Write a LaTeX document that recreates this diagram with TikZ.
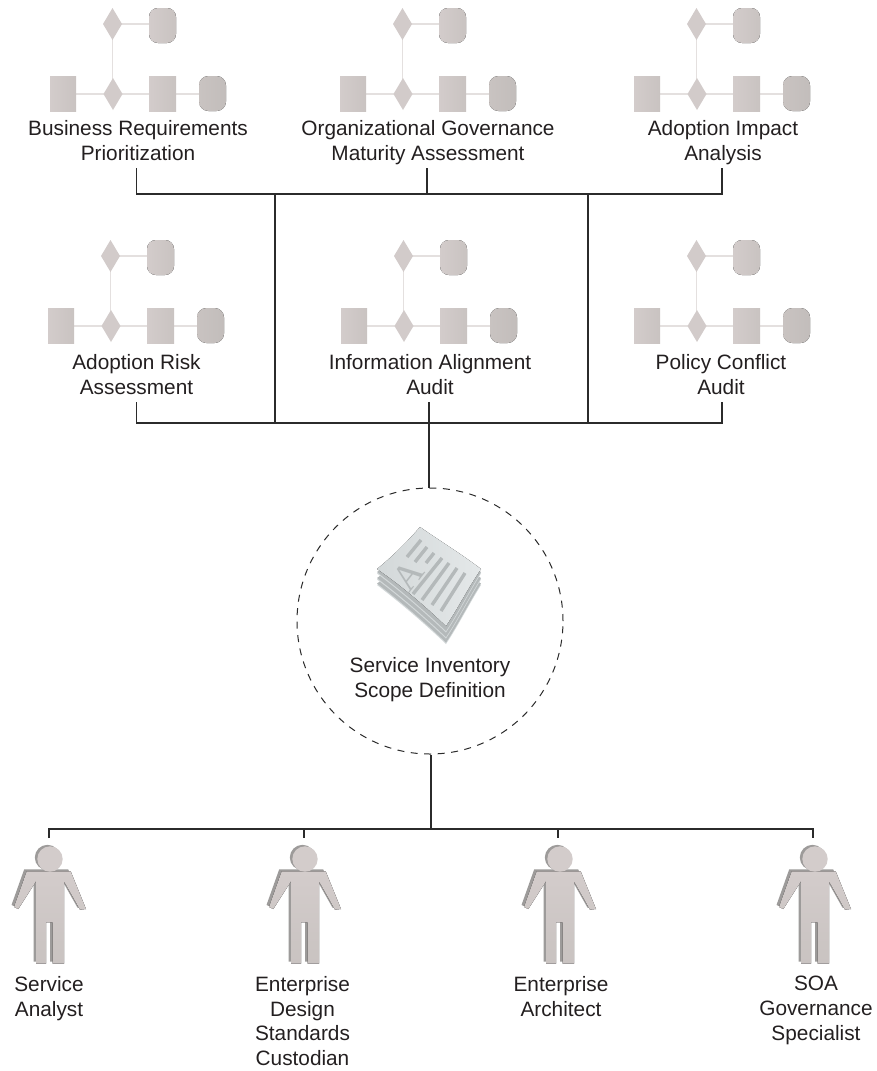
\documentclass[tikz,border=0pt]{standalone}
\usepackage{fontspec}
\setmainfont{Liberation Sans}
\newfontfamily\serifA{Liberation Serif}
\definecolor{iconA}{HTML}{D3CCCB}
\definecolor{iconB}{HTML}{C9C3C1}
\definecolor{iconC}{HTML}{C2BDBB}
\definecolor{linkc}{HTML}{E4E0DF}
\definecolor{txt}{HTML}{231F20}
\definecolor{wire}{HTML}{2B2B2B}
\definecolor{pagea}{HTML}{E4E8E9}
\definecolor{pageb}{HTML}{D3D8D9}
\definecolor{pagec}{HTML}{B4B9BA}
\tikzset{
  x=1pt,y=-1pt,
  lbl/.style={font=\fontsize{20.8}{24.8}\selectfont,text=txt,align=center,inner sep=0pt,anchor=north,execute at begin node=\strut},
  wirel/.style={draw=wire,line width=1.5pt,line cap=butt,line join=miter},
  dashc/.style={draw=wire,line width=1pt,dash pattern=on 7pt off 6.5pt},
  iconlink/.style={draw=linkc,line width=1.2pt},
  iconsq/.style={left color=iconA,right color=iconB,draw=none},
  icondia/.style={fill=iconA!92!iconB,draw=none},
  iconend/.style={left color=iconB,right color=iconC,draw=none},
  flowicon/.pic={
    \draw[iconlink] (112.5,24) -- (112.5,94);
    \draw[iconlink] (112.5,24) -- (162,24);
    \draw[iconlink] (63,94) -- (212,94);
    \fill[iconsq] (50,76) rectangle (76,111);
    \fill[icondia] (113,78) -- (122.5,94) -- (113,110) -- (103.5,94) -- cycle;
    \fill[icondia] (112.5,8) -- (122,24) -- (112.5,40) -- (103,24) -- cycle;
    \fill[iconsq] (149,76) rectangle (176,111);
    \fill[iconsq,rounded corners=9pt] (149,8) rectangle (176,43);
    \fill[iconend,rounded corners=9.5pt] (199,76) rectangle (226,111);
  },
  personicon/.pic={
    \fill[gray!60!iconB,shift={(-2.5,-2)}] (-22.3,13.3) -- (21.7,13.3) -- (37,51) -- (31,51.7) -- (15,23.3) -- (15,105.7) -- (3.7,105.7) -- (3.7,64.3) -- (-3,64.3) -- (-3,105.7) -- (-13,105.7) -- (-13,23.3) -- (-30.7,51) -- (-35,49) -- cycle;
    \fill[top color=iconA,bottom color=iconB] (-22.3,13.3) -- (21.7,13.3) -- (37,51) -- (31,51.7) -- (15,23.3) -- (15,105.7) -- (3.7,105.7) -- (3.7,64.3) -- (-3,64.3) -- (-3,105.7) -- (-13,105.7) -- (-13,23.3) -- (-30.7,51) -- (-35,49) -- cycle;
    \fill[gray!60!iconB] (-1.5,-0.5) circle (12.7);
    \fill[iconA] (1,1) circle (12.7);
  },
}
\begin{document}
\begin{tikzpicture}
\useasboundingbox (0,0) rectangle (877,1071);
% icons
\pic at (0,0) {flowicon};
\pic at (290,0) {flowicon};
\pic at (584,0) {flowicon};
\pic at (-2,232) {flowicon};
\pic at (291,232) {flowicon};
\pic at (584,232) {flowicon};
% labels
\node[lbl] (brp) at (138,120.5) {Business Requirements\\Prioritization};
\node[lbl] (ogm) at (428,120.5) {Organizational Governance\\Maturity Assessment};
\node[lbl] (aia) at (723,120.5) {Adoption Impact\\Analysis};
\node[lbl] (ara) at (136.5,354.5) {Adoption Risk\\Assessment};
\node[lbl] (iaa) at (430,354.5) {Information Alignment\\Audit};
\node[lbl] (pca) at (721,354.5) {Policy Conflict\\Audit};
% junctions
\coordinate (t1) at (136.5,168);
\coordinate (t2) at (427,168);
\coordinate (t3) at (722,168);
\coordinate (j1) at (136.5,194);
\coordinate (j2) at (427,194);
\coordinate (j3) at (722,194);
\coordinate (v1) at (275,194);
\coordinate (v2) at (588,194);
\coordinate (b1) at (136.5,402);
\coordinate (b2) at (429,402);
\coordinate (b3) at (722,402);
\coordinate (k1) at (136.5,423);
\coordinate (k3) at (722,423);
\coordinate (w1) at (275,423);
\coordinate (w2) at (588,423);
\draw[wirel] (t1) -- (j1) -- (j3) -- (t3);
\draw[wirel] (t2) -- (j2);
\draw[wirel] (v1) -- (w1);
\draw[wirel] (v2) -- (w2);
\draw[wirel] (b1) -- (k1) -- (k3) -- (b3);
% circle
\node[dashc,circle,minimum size=266pt,inner sep=0pt] (scope) at (430,621) {};
\draw[wirel] (b2) -- (b2 |- scope.north);
% document icon
\foreach \d/\c in {18/pageb,16.5/pagec,12.5/pageb,11/pagec,6.5/pageb,5/pagec}{
  \fill[\c] (420,{527+\d}) .. controls (440,{541+\d}) and (460,{553+\d}) .. (481,{569+\d-2})
    .. controls (468,{588+\d}) and (458,{608+\d}) .. (446,{626+\d})
    .. controls (425,{606+\d}) and (402,{586+\d}) .. (377,{569+\d-2})
    .. controls (393,{556+\d}) and (407,{542+\d}) .. (420,{527+\d}) -- cycle;
}
\fill[left color=pageb,right color=pagea]
    (420,527) .. controls (440,541) and (460,553) .. (481,569)
    .. controls (468,588) and (458,608) .. (446,626)
    .. controls (425,606) and (402,586) .. (377,569)
    .. controls (393,556) and (407,542) .. (420,527) -- cycle;
\begin{scope}[line width=3.4pt]
  \draw[pagec] (421,540) -- (407,557);
  \draw[pagec] (427,547) -- (415,562);
  \draw[pagec] (434,553) -- (426,563);
  \draw[pagec] (442,558) -- (413,594);
  \draw[pagec] (449,563) -- (422,600);
  \draw[pagec] (457,568) -- (432,605);
  \draw[pagec] (465,573) -- (441,611);
\end{scope}
\node[font=\serifA\fontsize{37}{37}\selectfont,text=pagec,rotate=52,inner sep=0pt] (glyphA) at (408,575) {A};
\node[lbl] (sis) at (430,657.5) {Service Inventory\\Scope Definition};
% bottom wires
\coordinate (s0) at (431,829);
\coordinate (p1) at (49,829);
\coordinate (p2) at (304,829);
\coordinate (p3) at (558,829);
\coordinate (p4) at (813,829);
\coordinate (q1) at (49,838);
\coordinate (q2) at (304,838);
\coordinate (q3) at (558,838);
\coordinate (q4) at (813,838);
\draw[wirel] (q1) -- (p1) -- (p4) -- (q4);
\draw[wirel] (p2) -- (q2);
\draw[wirel] (p3) -- (q3);
\draw[wirel] (s0 |- scope.south) -- (s0);
% persons
\pic at (49,858) {personicon};
\pic at (304,858) {personicon};
\pic at (559,858) {personicon};
\pic at (814,858) {personicon};
\node[lbl] (r1) at (49,976) {Service\\Analyst};
\node[lbl] (r2) at (302.5,976) {Enterprise\\Design\\Standards\\Custodian};
\node[lbl] (r3) at (561,976) {Enterprise\\Architect};
\node[lbl] (r4) at (816,976) {SOA\\Governance\\Specialist};
\end{tikzpicture}
\end{document}
